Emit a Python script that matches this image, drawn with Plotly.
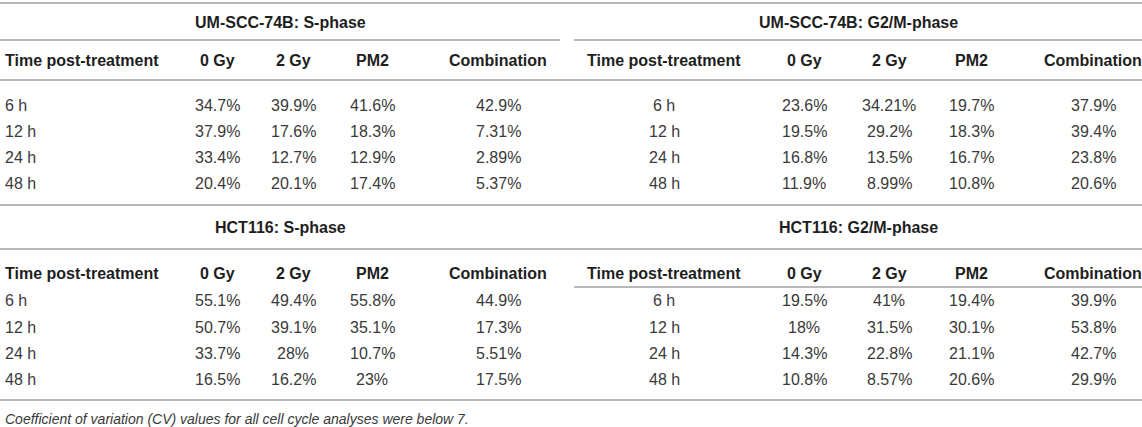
import plotly.graph_objects as go

# row / column labels
time_labels = ["6 h", "12 h", "24 h", "48 h"]
treatments = ["0 Gy", "2 Gy", "PM2", "Combination"]
first_col = "Time post-treatment"

# UM-SCC-74B: S-phase (% of cells)
um_s_0gy = [34.7, 37.9, 33.4, 20.4]
um_s_2gy = [39.9, 17.6, 12.7, 20.1]
um_s_pm2 = [41.6, 18.3, 12.9, 17.4]
um_s_comb = [42.9, 7.31, 2.89, 5.37]

# UM-SCC-74B: G2/M-phase
um_g2_0gy = [23.6, 19.5, 16.8, 11.9]
um_g2_2gy = [34.21, 29.2, 13.5, 8.99]
um_g2_pm2 = [19.7, 18.3, 16.7, 10.8]
um_g2_comb = [37.9, 39.4, 23.8, 20.6]

# HCT116: S-phase
hct_s_0gy = [55.1, 50.7, 33.7, 16.5]
hct_s_2gy = [49.4, 39.1, 28, 16.2]
hct_s_pm2 = [55.8, 35.1, 10.7, 23]
hct_s_comb = [44.9, 17.3, 5.51, 17.5]

# HCT116: G2/M-phase
hct_g2_0gy = [19.5, 18, 14.3, 10.8]
hct_g2_2gy = [41, 31.5, 22.8, 8.57]
hct_g2_pm2 = [19.4, 30.1, 21.1, 20.6]
hct_g2_comb = [39.9, 53.8, 42.7, 29.9]

footnote = "Coefficient of variation (CV) values for all cell cycle analyses were below 7."

W, H = 1142, 427
FONT = "Liberation Sans, Arial, Helvetica, sans-serif"
LINE = "#b9b9b9"
HEAD_COLOR = "#1e1e1e"
CELL_COLOR = "#3a3a3a"
SIZE = 16

# layout of the two halves (pixel positions)
left_half = dict(x0=0, x1=560, label_x=3, label_anchor="left",
                 cols=[217, 293, 372, 498])
right_half = dict(x0=574, x1=W, label_x=664, label_anchor="center",
                  cols=[804, 889, 971, 1093])

blocks = [
    dict(title="UM-SCC-74B: S-phase", half=left_half, top=0,
         data=[um_s_0gy, um_s_2gy, um_s_pm2, um_s_comb]),
    dict(title="UM-SCC-74B: G2/M-phase", half=right_half, top=0,
         data=[um_g2_0gy, um_g2_2gy, um_g2_pm2, um_g2_comb]),
    dict(title="HCT116: S-phase", half=left_half, top=1,
         data=[hct_s_0gy, hct_s_2gy, hct_s_pm2, hct_s_comb]),
    dict(title="HCT116: G2/M-phase", half=right_half, top=1,
         data=[hct_g2_0gy, hct_g2_2gy, hct_g2_pm2, hct_g2_comb]),
]

# vertical positions for the upper and lower block
rows_y = {
    0: dict(title=22, header=60, rows=[105, 131, 157, 183]),
    1: dict(title=227, header=273, rows=[300, 327, 353, 379]),
}


def fmt(v):
    return f"{v:g}%"


fig = go.Figure()
annotations = []
shapes = []


def add_text(x, y, text, anchor="center", bold=False, color=CELL_COLOR, size=SIZE, italic=False):
    annotations.append(dict(
        x=x, y=y, xref="x", yref="y", text=text, showarrow=False,
        xanchor=anchor, yanchor="middle",
        font=dict(family=FONT, size=size, color=color,
                  weight="bold" if bold else "normal",
                  style="italic" if italic else "normal"),
    ))


def hline(x0, x1, y, width=1.8):
    shapes.append(dict(type="line", xref="x", yref="y", x0=x0, x1=x1, y0=y, y1=y,
                       line=dict(color=LINE, width=width)))


for b in blocks:
    h = b["half"]
    pos = rows_y[b["top"]]
    add_text((h["x0"] + h["x1"]) / 2, pos["title"], b["title"], bold=True, color=HEAD_COLOR)
    add_text(h["label_x"], pos["header"], first_col, anchor=h["label_anchor"], bold=True, color=HEAD_COLOR)
    for cx, name in zip(h["cols"], treatments):
        add_text(cx, pos["header"], name, bold=True, color=HEAD_COLOR)
    for i, y in enumerate(pos["rows"]):
        add_text(h["label_x"], y, time_labels[i], anchor=h["label_anchor"])
        for cx, col in zip(h["cols"], b["data"]):
            add_text(cx, y, fmt(col[i]))

# rules
hline(0, W, 3, 2.2)
hline(0, 560, 40)
hline(574, W, 40)
hline(0, W, 80)
hline(0, W, 205, 2.2)
hline(0, W, 249)
hline(574, W, 287)
hline(0, W, 400, 2.2)

add_text(3, 419, footnote, anchor="left", color="#3a3a3a", size=14, italic=True)

fig.update_layout(
    width=W, height=H,
    margin=dict(l=0, r=0, t=0, b=0),
    paper_bgcolor="white", plot_bgcolor="white",
    xaxis=dict(range=[0, W], visible=False, fixedrange=True),
    yaxis=dict(range=[H, 0], visible=False, fixedrange=True),
    annotations=annotations,
    shapes=shapes,
    showlegend=False,
)

# drop the default page margin so the figure sits at the window corner
fig.write_html("out.html", config={"displayModeBar": False},
               post_script="document.body.style.margin='0';")
